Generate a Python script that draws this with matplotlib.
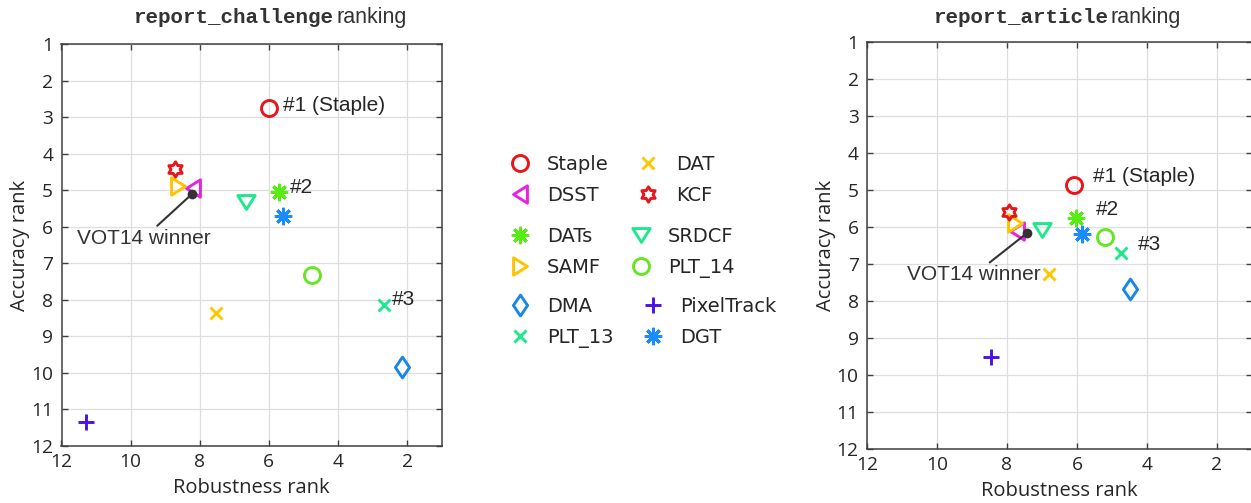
import numpy as np
import matplotlib
matplotlib.use("Agg")
import matplotlib.pyplot as plt
from matplotlib.lines import Line2D
from matplotlib.path import Path

# ---- data -------------------------------------------------------------
trackers = ["Staple", "DSST", "DATs", "SAMF", "DMA", "PLT_13",
            "DAT", "KCF", "SRDCF", "PLT_14", "PixelTrack", "DGT"]

challenge_robustness = [6.0, 8.2, 5.72, 8.63, 2.15, 2.67, 7.53, 8.72, 6.67, 4.74, 11.3, 5.59]
challenge_accuracy = [2.74, 4.93, 5.05, 4.89, 9.84, 8.14, 8.35, 4.42, 5.32, 7.32, 11.34, 5.70]

article_robustness = [6.1, 7.72, 6.02, 7.77, 4.5, 4.74, 6.79, 7.93, 6.99, 5.19, 8.47, 5.86]
article_accuracy = [4.86, 6.1, 5.74, 5.9, 7.68, 6.7, 7.26, 5.58, 6.09, 6.27, 9.51, 6.18]

vot14_challenge = (8.21, 5.09)
vot14_article = (7.43, 6.16)

x_ticks = [2, 4, 6, 8, 10, 12]
y_ticks = list(range(1, 13))

# ---- marker shapes ----------------------------------------------------
def closed(verts):
    verts = list(verts) + [verts[0]]
    return Path(verts, [Path.MOVETO] + [Path.LINETO] * (len(verts) - 2) + [Path.CLOSEPOLY])

def hexagram():
    k = np.arange(12)
    ang = np.deg2rad(90 + k * 30)
    r = np.where(k % 2 == 0, 1.0, 0.6)
    return closed(list(zip(r * np.cos(ang), r * np.sin(ang))))

tri_left = closed([(-0.8, 0), (0.8, 1), (0.8, -1)])
tri_right = closed([(0.8, 0), (-0.8, 1), (-0.8, -1)])
tri_down = closed([(-1, 0.8), (1, 0.8), (0, -0.8)])
diamond = closed([(0, 1), (0.68, 0), (0, -1), (-0.68, 0)])
asterisk = (8, 2, 0)

styles = {
    "Staple":     dict(marker="o", ms=11.5, color="#e8151b"),
    "DSST":       dict(marker=tri_left, ms=12.5, color="#ea22df"),
    "DATs":       dict(marker=asterisk, ms=12.5, color="#55ee11"),
    "SAMF":       dict(marker=tri_right, ms=12.5, color="#ffc400"),
    "DMA":        dict(marker=diamond, ms=15, color="#1a86e6"),
    "PLT_13":     dict(marker="x", ms=9, color="#1ee88e"),
    "DAT":        dict(marker="x", ms=9, color="#ffc800"),
    "KCF":        dict(marker=hexagram(), ms=11, color="#e8151b"),
    "SRDCF":      dict(marker=tri_down, ms=12.5, color="#1ee88e"),
    "PLT_14":     dict(marker="o", ms=11.5, color="#66e622"),
    "PixelTrack": dict(marker="+", ms=12, color="#4a12e6"),
    "DGT":        dict(marker=asterisk, ms=12.5, color="#1a8cff"),
}
MEW = 2.1

W, H = 1251, 503
fig = plt.figure(figsize=(W / 100, H / 100), dpi=100)

TICK_FONT = "Open Sans"
NOTE_FONT = "Liberation Sans"
spine_c = "#404040"
text_c = "#262626"


def px_rect(x0, y0, x1, y1):
    return [x0 / W, 1 - y1 / H, (x1 - x0) / W, (y1 - y0) / H]


def draw_panel(ax, rob, acc, winner, notes, winner_off):
    for name, x, y in zip(trackers, rob, acc):
        s = styles[name]
        ax.plot([x], [y], linestyle="none", marker=s["marker"], ms=s["ms"],
                mec=s["color"], mfc="none", mew=MEW, zorder=3)
    ax.plot([winner[0]], [winner[1]], "o", ms=6, color="#333333", zorder=4)
    ax.annotate("VOT14 winner", xy=winner, xytext=winner_off, textcoords="offset points",
                ha="center", va="center", fontsize=15, family=NOTE_FONT, color="#333333",
                arrowprops=dict(arrowstyle="-", color="#333333", lw=1.5,
                                shrinkA=0, shrinkB=0), zorder=4)
    for name, label, off in notes:
        i = trackers.index(name)
        ax.annotate(label, xy=(rob[i], acc[i]), xytext=off, textcoords="offset points",
                    ha="left", va="center", fontsize=15, family=NOTE_FONT, color="#262626")
    ax.set_xlim(12, 1)
    ax.set_ylim(12, 1)
    ax.set_xticks(x_ticks)
    ax.set_yticks(y_ticks)
    ax.grid(True, color="#dedede", lw=0.9)
    ax.set_axisbelow(True)
    ax.tick_params(direction="in", top=True, right=True, length=4, width=1,
                   color=spine_c, labelcolor=text_c, labelsize=13.8)
    ax.tick_params(axis="x", pad=5)
    ax.tick_params(axis="y", pad=6)
    for lab in ax.get_xticklabels() + ax.get_yticklabels():
        lab.set_family(TICK_FONT)
    for sp in ax.spines.values():
        sp.set_color(spine_c)
        sp.set_linewidth(1.1)
    ax.set_xlabel("Robustness rank", fontsize=14.5, family=TICK_FONT, color=text_c, labelpad=5)
    ax.set_ylabel("Accuracy rank", fontsize=14.5, family=TICK_FONT, color=text_c, labelpad=0.5)


ax1 = fig.add_axes(px_rect(61.5, 44.3, 441.6, 445.8))
draw_panel(ax1, challenge_robustness, challenge_accuracy, vot14_challenge,
           [("Staple", "#1 (Staple)", (10, 2)), ("DATs", "#2", (8, 3)), ("PLT_13", "#3", (6, 4))],
           (-35, -32))

ax2 = fig.add_axes(px_rect(867.0, 42.3, 1252.0, 449.0))
draw_panel(ax2, article_robustness, article_accuracy, vot14_article,
           [("Staple", "#1 (Staple)", (14, 6)), ("DATs", "#2", (14, 6)), ("PLT_13", "#3", (12, 6))],
           (-38, -30))

# titles: monospace report name followed by a plain word
for ax_x_end, mono in ((333, "report_challenge"), (1108, "report_article")):
    fig.text(ax_x_end / W, 1 - 23 / H, mono, ha="right", va="baseline",
             family="Liberation Mono", weight="bold", fontsize=15, color="#333333")
    fig.text((ax_x_end + 3) / W, 1 - 23 / H, "ranking", ha="left", va="baseline",
             family=NOTE_FONT, fontsize=15.5, color="#333333")

# legend, three groups of two rows each
order = [["Staple", "DSST", "DAT", "KCF"],
         ["DATs", "SAMF", "SRDCF", "PLT_14"],
         ["DMA", "PLT_13", "PixelTrack", "DGT"]]
tops = [155, 227, 297]
for names, top in zip(order, tops):
    handles = []
    for n in names:
        s = styles[n]
        handles.append(Line2D([], [], linestyle="none", marker=s["marker"], ms=s["ms"],
                              mec=s["color"], mfc="none", mew=MEW, label=n))
    fig.legend(handles=handles, ncol=2, loc="upper left",
               bbox_to_anchor=(508 / W, 1 - top / H), frameon=False,
               prop=dict(family="DejaVu Sans", size=14), handlelength=1.2,
               handletextpad=0.8, columnspacing=1.45, labelspacing=0.6,
               borderaxespad=0, borderpad=0, labelcolor="#262626")

fig.savefig("out.png", dpi=100)
